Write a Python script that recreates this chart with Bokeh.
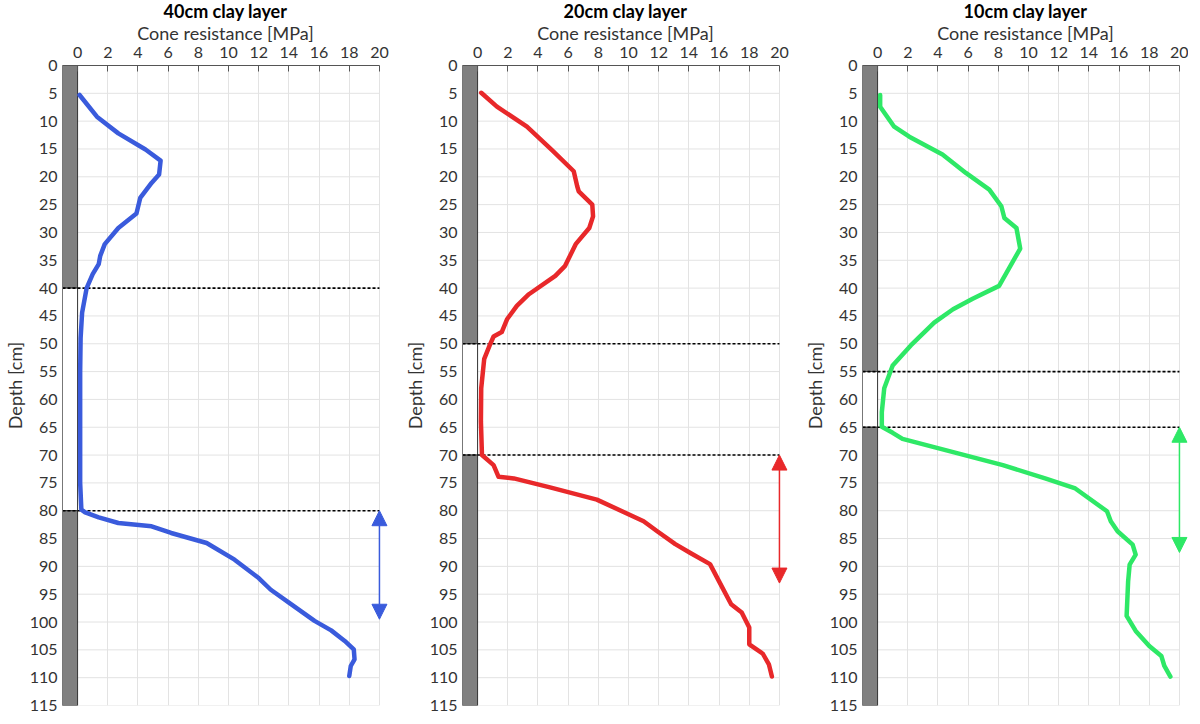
from bokeh.plotting import figure
from bokeh.models import Range1d, FixedTicker, Arrow, NormalHead
from bokeh.layouts import row
from bokeh.embed import file_html
from bokeh.resources import INLINE

# ---------------- data ----------------
titles = ["40cm clay layer", "20cm clay layer", "10cm clay layer"]
colors = ["#3A5BDC", "#E8282A", "#2EE866"]

depth_40 = [5.3, 9.2, 12.2, 15.1, 17.1, 19.6, 21.1, 23.8, 26.6, 29.2,
            32.1, 34.2, 35.7, 37.5, 40, 44.4, 49, 55, 65, 75,
            79.8, 80.3, 81.2, 82.2, 82.8, 84, 85.8, 88.8, 92.1, 94.2,
            96.5, 99.8, 101.5, 103.4, 104.9, 106.7, 107.9, 109.7]
res_40 = [0.13, 1.28, 2.7, 4.5, 5.5, 5.4, 4.9, 4.15, 3.9, 2.7,
          1.8, 1.5, 1.4, 1.0, 0.6, 0.3, 0.2, 0.17, 0.17, 0.17,
          0.25, 0.5, 1.4, 2.7, 4.9, 6.2, 8.55, 10.4, 12.0, 12.8,
          14.0, 15.7, 16.8, 17.7, 18.3, 18.35, 18.1, 18.0]

depth_20 = [4.9, 7.4, 11.0, 15.2, 19.0, 21.7, 22.6, 25.0, 27.1, 29.2,
            32.1, 36.0, 37.8, 41.1, 43.2, 45.6, 47.9, 48.7, 50.3, 52.7,
            58, 64, 70, 71.8, 73.9, 74.2, 75.8, 78.0, 81.9, 83.7,
            86.0, 87.6, 89.6, 92.7, 96.8, 98.3, 101, 104, 105.7, 107.6,
            109.8]
res_20 = [0.24, 1.28, 3.27, 4.93, 6.37, 6.6, 6.7, 7.6, 7.65, 7.4,
          6.5, 5.8, 5.15, 3.4, 2.6, 1.95, 1.6, 1.06, 0.8, 0.44,
          0.24, 0.22, 0.29, 1.06, 1.39, 2.4, 4.8, 7.9, 11.0, 11.9,
          13.1, 14.1, 15.4, 16.0, 16.8, 17.5, 18.0, 18.0, 18.9, 19.3,
          19.5]

depth_10 = [5.3, 7.4, 11.0, 12.8, 16.0, 19.3, 22.3, 25.3, 27.4, 29.2,
            32.9, 39.6, 41.9, 43.8, 46.2, 50.3, 53.9, 58, 62.3, 64.9,
            66, 67.1, 69.1, 71.8, 74.2, 76.0, 80.1, 81.9, 83.7, 86.1,
            87.9, 89.7, 92.7, 98.9, 101.6, 104.3, 106.1, 107.9, 109.8]
res_10 = [0.17, 0.17, 1.1, 2.1, 4.3, 5.85, 7.4, 8.2, 8.4, 9.2,
          9.45, 8.05, 6.3, 5.0, 3.75, 2.2, 1.0, 0.44, 0.28, 0.28,
          1.0, 1.65, 4.5, 8.3, 11.1, 13.1, 15.2, 15.45, 15.9, 16.9,
          17.1, 16.7, 16.6, 16.5, 17.1, 18.0, 18.8, 19.0, 19.4]

depths = [depth_40, depth_20, depth_10]
resistances = [res_40, res_20, res_10]

clay_top = [40, 50, 55]
clay_bottom = [80, 70, 65]
arrow_top = [80, 70, 65]
arrow_bottom = [99.5, 93, 87.5]

x_ticks = list(range(0, 21, 2))
y_ticks = list(range(0, 116, 5))
depth_max = 115
x_min, x_max = -1, 20
x_view_max = 20.6   # a little room so the arrow heads are not cut

FONT = "Lato"
TXT = "#333333"


def make_panel(i, border_right):
    p = figure(frame_width=326, frame_height=640,
               x_range=Range1d(x_min, x_view_max), y_range=Range1d(depth_max, 0),
               x_axis_location="above", output_backend="svg",
               toolbar_location=None,
               min_border_left=56, min_border_right=border_right,
               min_border_top=64, min_border_bottom=10)
    p.outline_line_color = None
    p.background_fill_color = "white"

    p.title.text = titles[i]
    p.title.align = "center"
    p.title.text_font = FONT
    p.title.text_font_size = "18px"
    p.title.text_font_style = "bold"
    p.title.text_color = "black"
    p.title.offset = -4
    try:
        p.title.standoff = -6
    except Exception:
        p.title.standoff = 0

    xa = p.xaxis[0]
    xa.bounds = (x_min, x_max)
    xa.ticker = FixedTicker(ticks=x_ticks)
    xa.axis_label = "Cone resistance [MPa]"
    xa.axis_label_text_font = FONT
    xa.axis_label_text_font_size = "18px"
    xa.axis_label_text_font_style = "normal"
    xa.axis_label_text_color = TXT
    xa.axis_label_standoff = 0
    xa.major_label_text_font = FONT
    xa.major_label_text_font_size = "16px"
    xa.major_label_text_color = TXT
    xa.major_label_standoff = 8
    xa.major_tick_in = 6
    xa.major_tick_out = 0
    xa.minor_tick_in = 0
    xa.minor_tick_out = 0
    xa.axis_line_color = "#555555"
    xa.major_tick_line_color = "#555555"

    ya = p.yaxis[0]
    ya.ticker = FixedTicker(ticks=y_ticks)
    ya.axis_label = "Depth [cm]"
    ya.axis_label_text_font = FONT
    ya.axis_label_text_font_size = "18px"
    ya.axis_label_text_font_style = "normal"
    ya.axis_label_text_color = TXT
    ya.axis_label_standoff = 1
    ya.major_label_text_font = FONT
    ya.major_label_text_font_size = "16px"
    ya.major_label_text_color = TXT
    ya.major_label_standoff = 5
    ya.major_tick_in = 0
    ya.major_tick_out = 0
    ya.minor_tick_in = 0
    ya.minor_tick_out = 0
    ya.axis_line_color = "#777777"

    p.xgrid.ticker = FixedTicker(ticks=x_ticks)
    p.xgrid.grid_line_color = "#e3e3e3"
    p.ygrid.grid_line_color = None
    # horizontal grid lines limited to the data range
    p.segment(x0=[x_min] * len(y_ticks), x1=[x_max] * len(y_ticks),
              y0=y_ticks, y1=y_ticks, line_color="#e3e3e3", line_width=1)

    # soil column bar: gray sand, white clay
    bar_tops = [0, clay_top[i], clay_bottom[i]]
    bar_bottoms = [clay_top[i], clay_bottom[i], depth_max]
    bar_fill = ["#808080", "white", "#808080"]
    p.quad(left=[x_min] * 3, right=[0] * 3, top=bar_tops, bottom=bar_bottoms,
           fill_color=bar_fill, line_color="#333333", line_width=1)

    # clay layer boundaries
    for d in (clay_top[i], clay_bottom[i]):
        p.line([x_min, x_max], [d, d], line_color="black", line_width=1.6,
               line_dash="3 2")

    # cone resistance profile
    p.line(resistances[i], depths[i], line_color=colors[i], line_width=4.5,
           line_join="round", line_cap="round")

    # double-headed arrow
    c = colors[i]
    p.add_layout(Arrow(start=NormalHead(size=15, fill_color=c, line_color=c),
                       end=NormalHead(size=15, fill_color=c, line_color=c),
                       x_start=x_max, y_start=arrow_top[i],
                       x_end=x_max, y_end=arrow_bottom[i],
                       line_color=c, line_width=1.5))
    return p


p1 = make_panel(0, 12)
p2 = make_panel(1, 12)
p3 = make_panel(2, 0)

layout = row(p1, p2, p3)
open("out.html", "w").write(file_html(layout, INLINE))
